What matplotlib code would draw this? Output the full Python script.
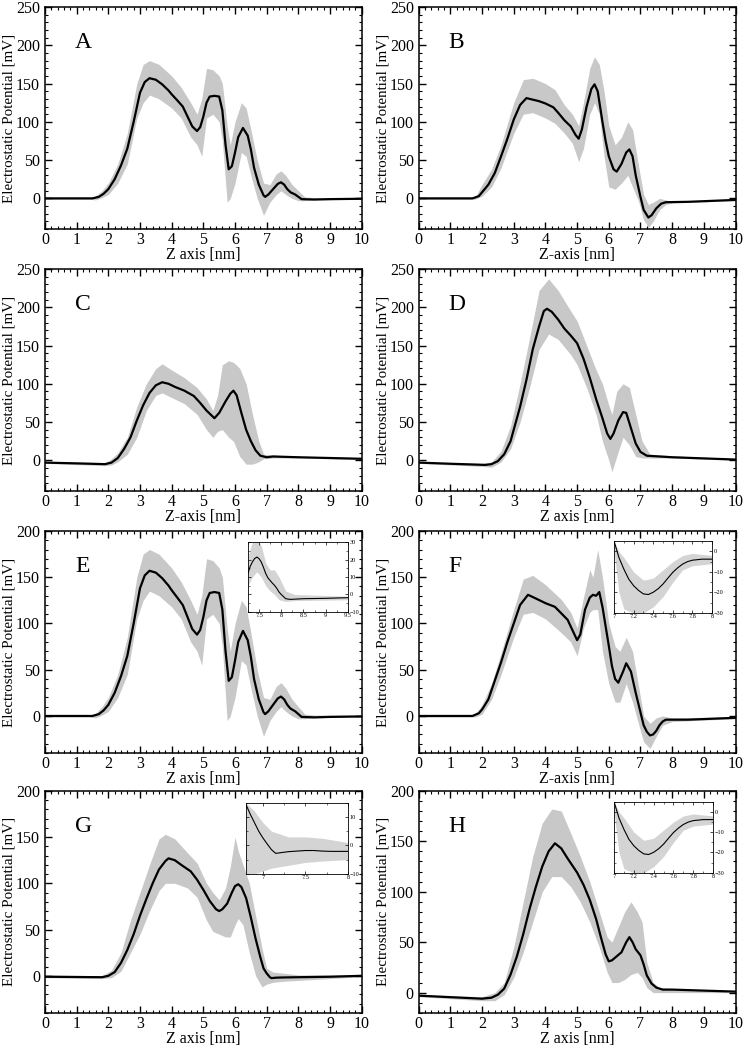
import numpy as np
import matplotlib
matplotlib.use('Agg')
import matplotlib.pyplot as plt
from matplotlib.ticker import MultipleLocator

plt.rcParams['font.family'] = ['Liberation Serif', 'DejaVu Serif']

# ---- panel A (same profile is shown again in E) ----
xa = [0, 1.0, 1.5, 1.7, 1.85, 2.0, 2.2, 2.4, 2.6, 2.8, 3.0, 3.15, 3.3, 3.5, 3.7, 3.9, 4.0, 4.2, 4.35, 4.5,
      4.65, 4.8, 4.9, 5.0, 5.1, 5.2, 5.35, 5.5, 5.6, 5.7, 5.8, 5.9, 6.0, 6.1, 6.25, 6.4, 6.5, 6.6, 6.75, 6.9,
      6.95, 7.05, 7.2, 7.35, 7.45, 7.55, 7.65, 7.75, 7.9, 8.0, 8.1, 8.5, 9.0, 10]
ya = [0, 0, 0, 2, 6, 12, 25, 43, 65, 100, 138, 152, 157, 155, 149, 141, 136, 127, 120, 107,
      94, 88, 93, 107, 125, 133, 134, 133, 115, 70, 38, 42, 60, 80, 92, 82, 64, 40, 18, 4,
      2, 5, 12, 19, 21, 18, 12, 8, 5, 2, -1, -1.5, -1, -0.5]
xa_band = [0, 1.4, 1.6, 1.8, 2.0, 2.3, 2.6, 2.9, 3.1, 3.3, 3.6, 4.0, 4.3, 4.6, 4.8, 4.95, 5.1, 5.3, 5.5,
           5.6, 5.75, 5.85, 6.0, 6.2, 6.35, 6.5, 6.7, 6.9, 7.1, 7.3, 7.45, 7.6, 7.8, 8.0, 8.2, 8.5, 10]
ya_up = [1, 1, 3, 10, 20, 45, 85, 150, 175, 180, 175, 160, 145, 125, 110, 130, 170, 168, 160,
         150, 95, 70, 100, 125, 118, 90, 50, 20, 18, 32, 36, 30, 18, 10, 2, 1, 1]
ya_lo = [-1, -1, -2, 1, 5, 20, 45, 105, 125, 135, 130, 118, 105, 80, 70, 55, 105, 110, 100,
         75, -5, 0, 20, 60, 55, 30, 0, -22, -5, 5, 10, 5, 0, -3, -3, -2, -1]

# ---- panel B ----
xb = [0, 1.7, 1.9, 2.0, 2.2, 2.4, 2.6, 2.8, 3.0, 3.2, 3.4, 3.6, 3.8, 4.0, 4.25, 4.4, 4.6, 4.8, 4.95, 5.05,
      5.15, 5.3, 5.45, 5.55, 5.65, 5.8, 5.9, 6.0, 6.15, 6.25, 6.4, 6.55, 6.65, 6.75, 6.85, 7.0, 7.1, 7.25,
      7.35, 7.5, 7.65, 7.8, 8.5, 10]
yb = [0, 0, 3, 8, 18, 33, 55, 78, 103, 122, 131, 129, 127, 124, 119, 112, 102, 94, 83, 78,
      90, 120, 143, 149, 140, 100, 75, 55, 38, 35, 45, 60, 64, 55, 30, 2, -15, -25,
      -22, -13, -7, -5, -4.5, -2]
xb_band = [0, 1.6, 1.8, 2.0, 2.3, 2.6, 3.0, 3.3, 3.6, 4.0, 4.3, 4.6, 4.85, 5.05, 5.2, 5.4, 5.55, 5.7,
           5.85, 6.0, 6.2, 6.4, 6.6, 6.75, 6.95, 7.1, 7.25, 7.4, 7.6, 7.8, 8.0, 10]
yb_up = [1, 1, 3, 18, 38, 70, 125, 155, 157, 150, 142, 122, 110, 95, 125, 170, 185, 175,
         140, 95, 70, 80, 100, 90, 40, 5, -8, -5, 0, -2, -4, -1]
yb_lo = [-1, -1, -1, 3, 15, 40, 85, 110, 112, 105, 98, 85, 72, 48, 65, 110, 125, 110,
         55, 15, 12, 20, 30, 15, -5, -28, -38, -30, -15, -8, -6, -3]

# ---- panel C ----
xc = [0, 1.0, 1.9, 2.1, 2.3, 2.5, 2.7, 2.9, 3.1, 3.3, 3.5, 3.7, 3.9, 4.1, 4.4, 4.7, 4.9, 5.1, 5.35, 5.5,
      5.7, 5.85, 5.95, 6.05, 6.2, 6.35, 6.5, 6.65, 6.8, 7.0, 7.2, 8.0, 10]
yc = [-3, -4, -5, -3, 3, 15, 30, 52, 72, 88, 98, 102, 100, 96, 91, 84, 75, 65, 55, 62,
      77, 87, 91, 85, 62, 40, 25, 13, 6, 4, 5, 4, 2]
xc_band = [0, 1.9, 2.1, 2.3, 2.6, 2.9, 3.2, 3.5, 3.7, 4.0, 4.4, 4.8, 5.1, 5.3, 5.45, 5.6, 5.8, 5.95,
           6.15, 6.35, 6.55, 6.75, 6.9, 7.2, 8.0, 10]
yc_up = [-2, -3, 2, 10, 30, 70, 100, 120, 126, 118, 108, 95, 80, 65, 85, 125, 130, 128,
         120, 100, 60, 25, 8, 7, 5, 3]
yc_lo = [-4, -7, -6, -2, 8, 30, 65, 85, 88, 82, 74, 60, 40, 30, 38, 40, 30, 25,
         5, -5, -5, -2, 2, 3, 3, 1]

# ---- panel D ----
xd = [0, 1.0, 2.1, 2.3, 2.5, 2.7, 2.9, 3.0, 3.2, 3.4, 3.6, 3.8, 3.95, 4.05, 4.2, 4.4, 4.6, 4.8, 5.0, 5.2,
      5.4, 5.6, 5.8, 5.95, 6.05, 6.15, 6.3, 6.45, 6.55, 6.7, 6.85, 7.0, 7.2, 8.0, 10]
yd = [-3, -4.5, -6, -5, -1, 8, 25, 40, 70, 105, 145, 175, 195, 198, 194, 184, 172, 163, 153, 133,
      108, 80, 55, 35, 28, 35, 52, 63, 62, 42, 22, 11, 6, 4, 1]
xd_band = [0, 2.0, 2.3, 2.6, 2.9, 3.2, 3.5, 3.8, 4.1, 4.4, 4.8, 5.0, 5.3, 5.6, 5.8, 6.0, 6.1, 6.25,
           6.45, 6.65, 6.85, 7.05, 7.3, 8.0, 10]
yd_up = [-2, -4, -2, 12, 45, 100, 160, 222, 237, 222, 195, 182, 150, 118, 100, 72, 60, 90,
         100, 95, 60, 25, 8, 6, 2]
yd_lo = [-4, -8, -9, -2, 15, 50, 95, 145, 165, 158, 138, 125, 95, 60, 25, 0, -15, 5,
         30, 20, 5, 3, 3, 3, 0]

# ---- panel F ----
xf = [0, 1.7, 1.9, 2.0, 2.2, 2.4, 2.6, 2.8, 3.0, 3.2, 3.45, 3.7, 4.0, 4.3, 4.5, 4.7, 4.85, 5.0, 5.1, 5.25,
      5.4, 5.5, 5.6, 5.7, 5.8, 5.9, 6.0, 6.1, 6.2, 6.3, 6.45, 6.55, 6.7, 6.85, 7.0, 7.1, 7.2, 7.3, 7.4,
      7.5, 7.6, 7.7, 7.8, 8.5, 10]
yf = [0, 0, 3, 7, 18, 38, 58, 80, 100, 120, 131, 127, 122, 118, 111, 104, 93, 82, 88, 115,
      128, 131, 130, 134, 118, 97, 76, 54, 40, 36, 48, 57, 48, 25, 4, -10, -17, -21, -20,
      -16, -10, -6, -4, -4, -2]
xf_band = [0, 1.6, 1.8, 2.0, 2.3, 2.6, 3.0, 3.3, 3.6, 4.0, 4.5, 4.8, 5.0, 5.2, 5.4, 5.5, 5.65, 5.8,
           6.0, 6.2, 6.35, 6.55, 6.75, 6.95, 7.1, 7.3, 7.5, 7.7, 8.0, 10]
yf_up = [1, 1, 3, 12, 35, 68, 115, 148, 152, 142, 126, 112, 95, 128, 158, 150, 180, 150,
         100, 75, 70, 85, 70, 30, 0, -8, -2, 0, -2, -1]
yf_lo = [-1, -1, -1, 2, 18, 45, 85, 110, 112, 105, 90, 80, 65, 95, 112, 115, 115, 70,
         35, 15, 15, 35, 15, -10, -28, -35, -22, -10, -6, -3]

# ---- panel G ----
xg = [0, 1.8, 2.0, 2.2, 2.4, 2.6, 2.8, 3.0, 3.2, 3.4, 3.6, 3.8, 3.9, 4.1, 4.3, 4.6, 4.8, 5.0, 5.2, 5.4,
      5.5, 5.6, 5.75, 5.9, 6.0, 6.1, 6.2, 6.35, 6.5, 6.65, 6.8, 6.9, 7.0, 7.1, 7.15, 7.3, 7.5, 8.0, 9.0, 10]
yg = [-1, -1.5, 0, 4, 14, 28, 45, 65, 83, 100, 115, 124, 127, 125, 120, 113, 104, 93, 81, 72,
      70, 72, 78, 90, 97, 99, 96, 84, 63, 40, 20, 8, 2.6, -1.5, -2.5, -2, -1.8, -1.5, -1, 0]
xg_band = [0, 1.8, 2.1, 2.4, 2.7, 3.0, 3.3, 3.6, 3.8, 4.1, 4.5, 4.8, 5.1, 5.3, 5.5, 5.7, 5.85, 6.0,
           6.1, 6.25, 6.45, 6.65, 6.85, 7.0, 7.2, 7.5, 8.0, 10]
yg_up = [1, 0, 6, 25, 60, 90, 120, 148, 153, 148, 133, 122, 100, 90, 82, 95, 118, 150,
         135, 120, 100, 65, 30, 8, 4, 3, 1, 1]
yg_lo = [-2, -3, -2, 5, 25, 45, 70, 92, 100, 100, 95, 85, 60, 48, 45, 42, 42, 55,
         62, 55, 25, 0, -12, -9, -7, -6, -5, -1]

# ---- panel H ----
xh = [0, 1.0, 2.0, 2.3, 2.5, 2.7, 2.9, 3.1, 3.3, 3.5, 3.7, 3.9, 4.1, 4.3, 4.5, 4.7, 5.0, 5.2, 5.4, 5.6,
      5.75, 5.9, 6.0, 6.1, 6.25, 6.4, 6.55, 6.65, 6.75, 6.85, 7.0, 7.1, 7.2, 7.35, 7.5, 7.7, 8.0, 10]
yh = [-3, -4.5, -6, -5, -2, 4, 18, 36, 58, 83, 105, 125, 140, 148, 143, 133, 119, 107, 92, 73,
      55, 38, 31, 32, 36, 40, 50, 55, 50, 43, 37, 28, 17, 9, 5, 3, 3, 1]
xh_band = [0, 2.0, 2.4, 2.7, 3.0, 3.3, 3.6, 3.9, 4.2, 4.5, 4.8, 5.1, 5.4, 5.7, 5.95, 6.1, 6.3, 6.5,
           6.7, 6.9, 7.05, 7.2, 7.4, 7.6, 8.0, 10]
yh_up = [-2, -4, 0, 10, 45, 90, 135, 168, 182, 180, 158, 135, 110, 80, 55, 50, 65, 80,
         90, 80, 70, 30, 10, 5, 4, 2]
yh_lo = [-4, -8, -8, -2, 15, 40, 70, 100, 115, 115, 105, 90, 70, 45, 20, 10, 10, 13,
         18, 20, 15, 5, 0, 0, 0, 0]

# ---- insets ----
xe_in = [7.25, 7.3, 7.35, 7.4, 7.45, 7.5, 7.55, 7.6, 7.65, 7.7, 7.75, 7.8, 7.85, 7.9, 7.95, 8.0, 8.1,
         8.2, 8.5, 9.0, 9.5]
ye_in = [12, 16, 18.6, 20.5, 21.4, 20.5, 18.6, 15.5, 12, 9.5, 8, 6.5, 5.2, 3.5, 1.4, 0, -2.4,
         -2.8, -2.4, -2.2, -1.8]
xe_in_band = [7.25, 7.35, 7.45, 7.55, 7.65, 7.75, 7.85, 7.95, 8.1, 8.3, 9.5]
ye_in_up = [22, 30, 32, 28, 18, 14, 14, 10, 2, 0, -1]
ye_in_lo = [5, 10, 13, 10, 5, 2, 0, -3, -4, -3.5, -3]

xf_in = [7.0, 7.05, 7.1, 7.15, 7.2, 7.25, 7.3, 7.35, 7.4, 7.45, 7.5, 7.55, 7.6, 7.65, 7.7, 7.75, 7.8,
         7.9, 8.0]
yf_in = [5, -3, -8.6, -13.5, -16.7, -19, -20.7, -21, -19.9, -18.2, -15.9, -13, -10.2, -8, -6.2, -5,
         -4.3, -3.8, -3.8]
xf_in_band = [7.0, 7.05, 7.1, 7.2, 7.3, 7.4, 7.5, 7.6, 7.7, 7.8, 8.0]
yf_in_up = [5, 0, -3, -10, -14, -13, -9, -5, -2, -1, -2]
yf_in_lo = [0, -20, -28, -30, -30, -27, -22, -15, -9, -7, -6]

xg_in = [6.8, 6.85, 6.9, 6.95, 7.0, 7.05, 7.1, 7.15, 7.2, 7.3, 7.4, 7.5, 7.6, 7.7, 7.8, 8.0]
yg_in = [14.4, 11, 8, 5, 2.6, 0.5, -1.5, -2.8, -2.6, -2.2, -2, -1.8, -1.8, -2, -2.1, -2.1]
xg_in_band = [6.8, 6.9, 7.0, 7.1, 7.3, 7.5, 7.7, 8.0]
yg_in_up = [15, 12, 8, 5, 3, 3, 2.5, 1]
yg_in_lo = [-10, -10, -9, -8, -7, -6, -5.5, -5]

letters = ['A', 'B', 'C', 'D', 'E', 'F', 'G', 'H']
xlabels = ['Z axis [nm]', 'Z-axis [nm]', 'Z-axis [nm]', 'Z axis [nm]',
           'Z axis [nm]', 'Z-axis [nm]', 'Z axis [nm]', 'Z axis [nm]']
ylims = [(-40, 250), (-40, 250), (-40, 250), (-40, 250),
         (-40, 200), (-40, 200), (-40, 200), (-20, 200)]

panels = [(xa, ya, xa_band, ya_up, ya_lo), (xb, yb, xb_band, yb_up, yb_lo),
          (xc, yc, xc_band, yc_up, yc_lo), (xd, yd, xd_band, yd_up, yd_lo),
          (xa, ya, xa_band, ya_up, ya_lo), (xf, yf, xf_band, yf_up, yf_lo),
          (xg, yg, xg_band, yg_up, yg_lo), (xh, yh, xh_band, yh_up, yh_lo)]

GREY = '#c8c8c8'

fig = plt.figure(figsize=(7.49, 10.49), dpi=100)

lefts = [0.060, 0.559]
bottoms = [0.7817, 0.532, 0.2822, 0.0345]
w, h = 0.423, 0.2116

for i in range(8):
    r, c = divmod(i, 2)
    ax = fig.add_axes([lefts[c], bottoms[r], w, h])
    x, y, xb_, up, lo = panels[i]
    ax.fill_between(xb_, lo, up, color=GREY, lw=0)
    ax.plot(x, y, color='k', lw=1.6)
    ax.set_xlim(0, 10)
    ax.set_ylim(*ylims[i])
    ax.xaxis.set_major_locator(MultipleLocator(1))
    ax.xaxis.set_minor_locator(MultipleLocator(0.2))
    ax.yaxis.set_major_locator(MultipleLocator(50))
    ax.yaxis.set_minor_locator(MultipleLocator(10))
    ax.tick_params(which='both', direction='in', top=True, right=True, labelsize=11.5)
    ax.tick_params(which='major', length=5, width=1.0)
    ax.tick_params(which='minor', length=2.5, width=0.8)
    ax.tick_params(axis='x', pad=2)
    for s in ax.spines.values():
        s.set_linewidth(1.1)
    ax.set_xlabel(xlabels[i], fontsize=11.5, labelpad=-0.5)
    ax.set_ylabel('Electrostatic Potential [mV]', fontsize=10.8, labelpad=0.5)
    ax.text(0.095, 0.84, letters[i], transform=ax.transAxes, fontsize=17, va='center', ha='left')

insets = [
    ([0.331, 0.4166, 0.1335, 0.0667], xe_in, ye_in, xe_in_band, ye_in_up, ye_in_lo, (7.25, 9.5), (-10, 30), 0.5, 10),
    ([0.8198, 0.4156, 0.1308, 0.0686], xf_in, yf_in, xf_in_band, yf_in_up, yf_in_lo, (7, 8), (-30, 5), 0.2, 10),
    ([0.3284, 0.167, 0.1362, 0.0677], xg_in, yg_in, xg_in_band, yg_in_up, yg_in_lo, (6.8, 8), (-10, 15), 0.5, 10),
    ([0.8198, 0.168, 0.1322, 0.0677], xf_in, yf_in, xf_in_band, yf_in_up, yf_in_lo, (7, 8), (-30, 5), 0.2, 10),
]

for pos, x, y, xb_, up, lo, xl, yl, xmaj, ymaj in insets:
    ax = fig.add_axes(pos)
    ax.fill_between(xb_, lo, up, color='#d4d4d4', lw=0)
    ax.plot(x, y, color='k', lw=0.8)
    ax.set_xlim(*xl)
    ax.set_ylim(*yl)
    ax.xaxis.set_major_locator(MultipleLocator(xmaj))
    ax.xaxis.set_minor_locator(MultipleLocator(xmaj / 2))
    ax.yaxis.set_major_locator(MultipleLocator(ymaj))
    ax.yaxis.set_minor_locator(MultipleLocator(ymaj / 2))
    ax.yaxis.tick_right()
    ax.tick_params(which='both', direction='in', top=True, left=True, right=True,
                   labelsize=4.5, pad=1)
    ax.tick_params(which='major', length=2.5, width=0.5)
    ax.tick_params(which='minor', length=1.2, width=0.4)
    ax.xaxis.set_major_formatter(plt.FuncFormatter(lambda v, p: ('%g' % v)))
    for s in ax.spines.values():
        s.set_linewidth(0.6)

fig.savefig('out.png', dpi=100)
